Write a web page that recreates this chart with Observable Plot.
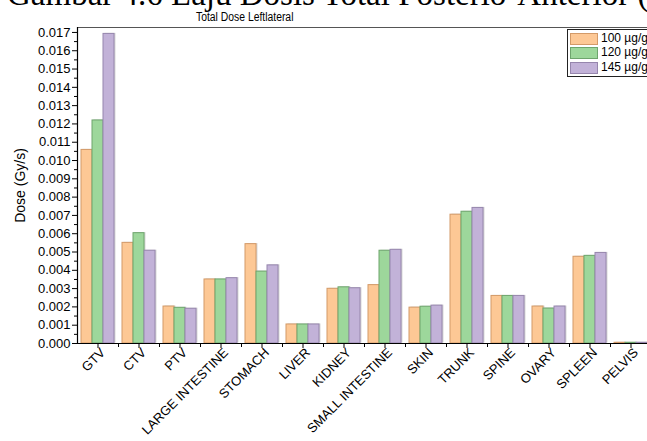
<!DOCTYPE html>
<html>
<head>
<meta charset="utf-8">
<script src="https://cdn.jsdelivr.net/npm/d3@7"></script>
<script src="https://cdn.jsdelivr.net/npm/@observablehq/plot@0.6"></script>
<style>
  html, body { margin: 0; padding: 0; background: #fff; overflow: hidden; }
  #wrap { position: relative; width: 647px; height: 441px; overflow: hidden; background: #fff; }
  #chart { position: absolute; left: 0; top: 0; width: 670px; }
  #chart svg { max-width: none !important; }
  #heading {
    position: absolute; left: 7px; top: -22px; white-space: nowrap;
    font-family: "Liberation Serif", "Times New Roman", serif; font-size: 33px; line-height: 33px; color: #000;
  }
  #title {
    position: absolute; left: 0; top: 10px; width: 490px; text-align: center;
    font-family: "Liberation Sans", Arial, sans-serif;
    font-size: 12.5px; line-height: 14px; color: #000;
  }
  #title span { display: inline-block; transform: scaleX(0.83); transform-origin: 50% 50%; }
  #legend {
    position: absolute; left: 567px; top: 29px; width: 110px; height: 46px;
    border: 1px solid #222; background: #fff;
    font-family: "Liberation Sans", Arial, sans-serif; font-size: 12px; color: #000;
  }
  .row { position: absolute; left: 2px; height: 12px; }
  .sw { position: absolute; left: 0; top: 0; width: 26px; height: 10px; border: 1px solid; }
  .lab { position: absolute; left: 31px; top: -1px; white-space: nowrap; line-height: 13px; }
</style>
</head>
<body>
<div id="wrap">
  <div id="chart"></div>
  <div id="heading">Gambar 4.6 Laju Dosis Total Posterio-Anterior (Leftlateral)</div>
  <div id="title"><span>Total Dose Leftlateral</span></div>
  <div id="legend"></div>
</div>
<script>
// Organs / structures along the x axis
const categories = ["GTV", "CTV", "PTV", "LARGE INTESTINE", "STOMACH", "LIVER", "KIDNEY",
  "SMALL INTESTINE", "SKIN", "TRUNK", "SPINE", "OVARY", "SPLEEN", "PELVIS"];

// Dose series (Gy/s), one value per category
const series = ["100 µg/g", "120 µg/g", "145 µg/g"];
const dose100 = [0.01058, 0.00550, 0.00202, 0.00350, 0.00543, 0.00104, 0.00299, 0.00319, 0.00196, 0.00704, 0.00260, 0.00202, 0.00474, 0.00004];
const dose120 = [0.01219, 0.00603, 0.00195, 0.00350, 0.00393, 0.00104, 0.00307, 0.00507, 0.00201, 0.00720, 0.00260, 0.00191, 0.00479, 0.00004];
const dose145 = [0.01692, 0.00507, 0.00190, 0.00357, 0.00427, 0.00104, 0.00302, 0.00512, 0.00207, 0.00741, 0.00260, 0.00202, 0.00495, 0.00004];

// Y axis tick values
const yTicks = [0, 0.001, 0.002, 0.003, 0.004, 0.005, 0.006, 0.007, 0.008, 0.009,
  0.010, 0.011, 0.012, 0.013, 0.014, 0.015, 0.016, 0.017];
const yMinorTicks = [0.0005, 0.0015, 0.0025, 0.0035, 0.0045, 0.0055, 0.0065, 0.0075, 0.0085,
  0.0095, 0.0105, 0.0115, 0.0125, 0.0135, 0.0145, 0.0155, 0.0165];

const fills = ["#fdc895", "#9dd79b", "#c2b2d8"];
const strokes = ["#d39a68", "#6ea56d", "#9686ad"];

const seriesValues = [dose100, dose120, dose145];
const rows = categories.flatMap((c, i) =>
  series.map((s, j) => ({category: c, series: s, dose: seriesValues[j][i]})));

const fontStack = "'Liberation Sans', Arial, sans-serif";

const chart = Plot.plot({
  width: 670,
  height: 441,
  marginTop: 27,
  marginBottom: 98,
  marginLeft: 71,
  marginRight: 13,
  style: {fontFamily: fontStack, fontSize: "13px", color: "#000", background: "transparent", overflow: "visible", maxWidth: "none"},
  fx: {domain: categories, padding: 0, label: null},
  x: {domain: series, paddingInner: 0, paddingOuter: 0.354, axis: null},
  y: {domain: [0, 0.01727], label: null},
  marks: [
    // soft shadow behind each bar
    Plot.barY(rows, {fx: "category", x: "series", y: "dose", fill: "#8a8a8a", fillOpacity: 0.35, dx: 1.5, dy: -0.5}),
    ...series.map((s, j) =>
      Plot.barY(rows.filter(d => d.series === s), {
        fx: "category", x: "series", y: "dose",
        fill: fills[j], stroke: strokes[j], strokeWidth: 1
      })),
    // top border of the plot area
    Plot.frame({anchor: "top", stroke: "#555"}),
    // minor ticks at the boundaries between categories
    Plot.frame({anchor: "right", stroke: "#000", insetTop: 316, insetBottom: -3}),
    // x axis line
    Plot.ruleY([0], {stroke: "#000", strokeWidth: 1.2}),
    // y axis line
    Plot.frame({anchor: "left", stroke: "#000", strokeWidth: 1.2, facetAnchor: "left"}),
    Plot.axisY({ticks: yMinorTicks, tickSize: 3, tickFormat: () => "", label: null}),
    Plot.axisY({ticks: yTicks, tickSize: 5, tickPadding: 2, tickFormat: d3.format(".3f"), label: null}),
    Plot.axisY({
      ticks: [], label: "Dose (Gy/s)", labelAnchor: "center", labelArrow: "none",
      labelOffset: 62, fontSize: 14
    }),
    // category ticks and rotated names
    Plot.axisFx({anchor: "bottom", tickSize: 5, tickFormat: () => "", label: null}),
    Plot.axisFx({anchor: "bottom", tickRotate: -45, tickSize: 0, tickPadding: 7, dx: 5, label: null, fontSize: 13})
  ]
});
document.getElementById("chart").appendChild(chart);

// legend box
const legend = document.getElementById("legend");
series.forEach((s, j) => {
  const row = document.createElement("div");
  row.className = "row";
  row.style.top = (3 + j * 14.3) + "px";
  const sw = document.createElement("div");
  sw.className = "sw";
  sw.style.background = fills[j];
  sw.style.borderColor = strokes[j];
  const lab = document.createElement("div");
  lab.className = "lab";
  lab.textContent = s;
  row.appendChild(sw);
  row.appendChild(lab);
  legend.appendChild(row);
});
</script>
</body>
</html>
